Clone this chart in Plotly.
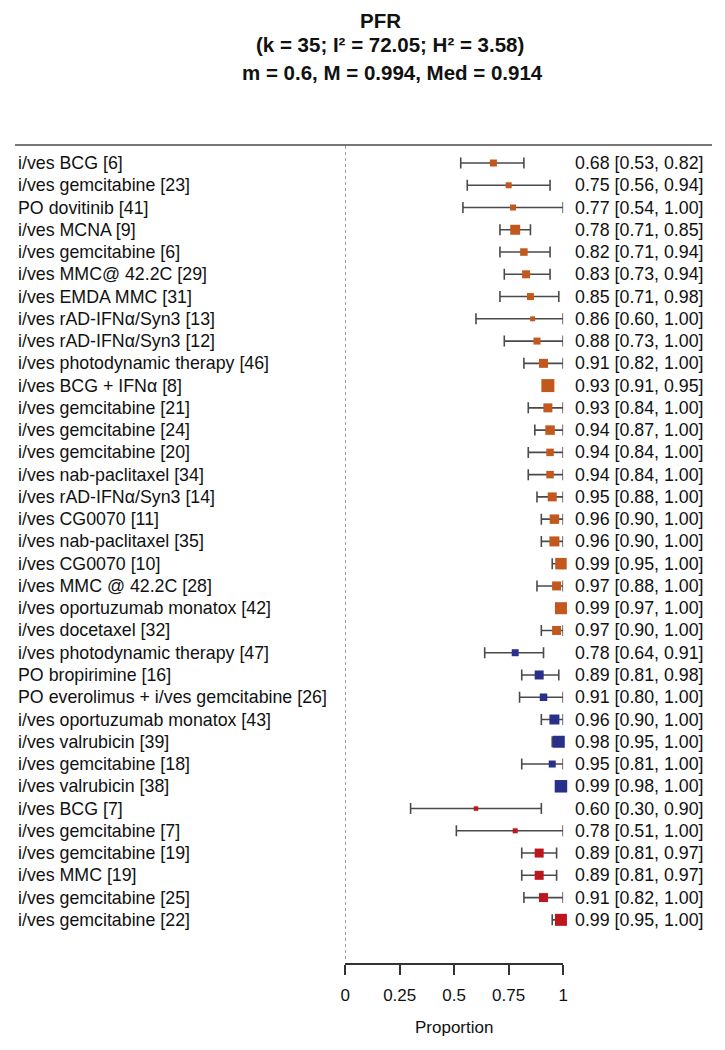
import plotly.graph_objects as go

labels = [
    "i/ves BCG [6]", "i/ves gemcitabine [23]", "PO dovitinib [41]", "i/ves MCNA [9]",
    "i/ves gemcitabine [6]", "i/ves MMC@ 42.2C [29]", "i/ves EMDA MMC [31]",
    "i/ves rAD-IFNα/Syn3 [13]", "i/ves rAD-IFNα/Syn3 [12]", "i/ves photodynamic therapy [46]",
    "i/ves BCG + IFNα [8]", "i/ves gemcitabine [21]", "i/ves gemcitabine [24]",
    "i/ves gemcitabine [20]", "i/ves nab-paclitaxel [34]", "i/ves rAD-IFNα/Syn3 [14]",
    "i/ves CG0070 [11]", "i/ves nab-paclitaxel [35]", "i/ves CG0070 [10]",
    "i/ves MMC @ 42.2C [28]", "i/ves oportuzumab monatox [42]", "i/ves docetaxel [32]",
    "i/ves photodynamic therapy [47]", "PO bropirimine [16]",
    "PO everolimus + i/ves gemcitabine [26]", "i/ves oportuzumab monatox [43]",
    "i/ves valrubicin [39]", "i/ves gemcitabine [18]", "i/ves valrubicin [38]",
    "i/ves BCG [7]", "i/ves gemcitabine [7]", "i/ves gemcitabine [19]", "i/ves MMC [19]",
    "i/ves gemcitabine [25]", "i/ves gemcitabine [22]",
]
est = [0.68, 0.75, 0.77, 0.78, 0.82, 0.83, 0.85, 0.86, 0.88, 0.91, 0.93, 0.93, 0.94, 0.94,
       0.94, 0.95, 0.96, 0.96, 0.99, 0.97, 0.99, 0.97,
       0.78, 0.89, 0.91, 0.96, 0.98, 0.95, 0.99,
       0.60, 0.78, 0.89, 0.89, 0.91, 0.99]
lo = [0.53, 0.56, 0.54, 0.71, 0.71, 0.73, 0.71, 0.60, 0.73, 0.82, 0.91, 0.84, 0.87, 0.84,
      0.84, 0.88, 0.90, 0.90, 0.95, 0.88, 0.97, 0.90,
      0.64, 0.81, 0.80, 0.90, 0.95, 0.81, 0.98,
      0.30, 0.51, 0.81, 0.81, 0.82, 0.95]
hi = [0.82, 0.94, 1.00, 0.85, 0.94, 0.94, 0.98, 1.00, 1.00, 1.00, 0.95, 1.00, 1.00, 1.00,
      1.00, 1.00, 1.00, 1.00, 1.00, 1.00, 1.00, 1.00,
      0.91, 0.98, 1.00, 1.00, 1.00, 1.00, 1.00,
      0.90, 1.00, 0.97, 0.97, 1.00, 1.00]
# relative weight of each study, shown as marker size
weights = [7, 6, 6, 10, 7.5, 8, 7, 5, 7, 9, 13, 9, 9.5, 7.5, 7.5, 9, 9.5, 10, 11.5, 9, 12, 9,
           7, 9, 7.5, 10, 12, 7, 12.5,
           4.5, 5, 9, 9, 9, 12]
group = ["A"] * 22 + ["B"] * 7 + ["C"] * 6
group_colors = {"A": "#C2581E", "B": "#28308A", "C": "#BE161E"}
xticks = [0, 0.25, 0.5, 0.75, 1]
xticklabels = ["0", "0.25", "0.5", "0.75", "1"]
title_lines = ["PFR", "(k = 35; I² = 72.05; H² = 3.58)", "m = 0.6, M = 0.994, Med = 0.914"]

OFF = 8                     # page body margin
W, H = 725 - 2 * OFF, 1050 - 2 * OFF
def px(p):                  # target x pixel -> paper fraction
    return (p - OFF) / W
def py(p):                  # target y pixel -> paper fraction
    return 1 - (p - OFF) / H

X0, X1 = 345, 566          # pixel positions of 0 and 1
ROW0, DROW = 163, 22.26    # pixel position of first row, row spacing
n = len(labels)
rows = list(range(1, n + 1))
FONT = "Liberation Sans, Arial, Helvetica, sans-serif"

fig = go.Figure()
# confidence intervals (drawn first, so the squares sit on top)
fig.add_trace(go.Scatter(
    x=est, y=rows, mode="markers", marker=dict(size=1, opacity=0),
    error_x=dict(type="data", symmetric=False,
                 array=[h - e for h, e in zip(hi, est)],
                 arrayminus=[e - l for e, l in zip(est, lo)],
                 color="#4a4a4a", thickness=1.6, width=5.5),
    cliponaxis=False, showlegend=False, hoverinfo="skip"))
for g, col in group_colors.items():
    idx = [i for i in range(n) if group[i] == g]
    fig.add_trace(go.Scatter(
        x=[est[i] for i in idx], y=[rows[i] for i in idx], mode="markers",
        marker=dict(symbol="square", size=[weights[i] for i in idx], color=col,
                    opacity=1, line=dict(width=0)),
        cliponaxis=False, showlegend=False, hoverinfo="skip"))

ann = []
for i in range(n):
    ann.append(dict(x=px(11), xref="paper", y=rows[i], yref="y", text=labels[i],
                    xanchor="left", yanchor="middle", showarrow=False,
                    font=dict(family=FONT, size=17.8, color="#111")))
    ann.append(dict(x=px(711), xref="paper", y=rows[i], yref="y",
                    text=f"{est[i]:.2f} [{lo[i]:.2f}, {hi[i]:.2f}]",
                    xanchor="right", yanchor="middle", showarrow=False,
                    font=dict(family=FONT, size=17.8, color="#111")))
title_y = [17, 45, 72]
title_x = [381, 390, 393]
for k, (t, yy, xx) in enumerate(zip(title_lines, title_y, title_x)):
    if k == 0:
        ann.append(dict(x=px(xx), xref="paper", y=1, yref="paper", text=f"<b>{t}</b>",
                        xanchor="center", yanchor="top", showarrow=False, borderpad=0,
                        font=dict(family=FONT, size=20.5, color="#111")))
    else:
        ann.append(dict(x=px(xx), xref="paper", y=py(yy), yref="paper", text=f"<b>{t}</b>",
                        xanchor="center", yanchor="middle", showarrow=False,
                        font=dict(family=FONT, size=20.5, color="#111")))
ann.append(dict(x=0.5, xref="x", y=py(1027), yref="paper", text="Proportion",
                xanchor="center", yanchor="middle", showarrow=False,
                font=dict(family=FONT, size=17, color="#111")))

shapes = [
    dict(type="line", xref="paper", yref="paper", x0=px(10), x1=px(717),
         y0=py(145), y1=py(145), line=dict(color="#777", width=2)),
    dict(type="line", xref="x", yref="paper", x0=0, x1=0,
         y0=py(146), y1=py(961), line=dict(color="#666", width=1.2, dash="dot")),
]

fig.update_layout(
    width=W, height=H, margin=dict(l=0, r=0, t=0, b=0),
    plot_bgcolor="white", paper_bgcolor="white",
    xaxis=dict(domain=[px(X0), px(X1)], range=[0, 1], anchor="free", position=py(964),
               showline=True, linecolor="#333", linewidth=1.5, ticks="outside", ticklen=10,
               tickwidth=1.5, tickcolor="#333", tickvals=xticks, ticktext=xticklabels,
               ticklabelstandoff=6,
               tickfont=dict(family=FONT, size=17, color="#111"), showgrid=False, zeroline=False,
               fixedrange=True),
    yaxis=dict(domain=[0, 1],
               range=[1 + (H + OFF - ROW0) / DROW, 1 - (ROW0 - OFF) / DROW],
               visible=False, showgrid=False, zeroline=False),
    annotations=ann, shapes=shapes, showlegend=False,
)
fig.write_html("out.html")
